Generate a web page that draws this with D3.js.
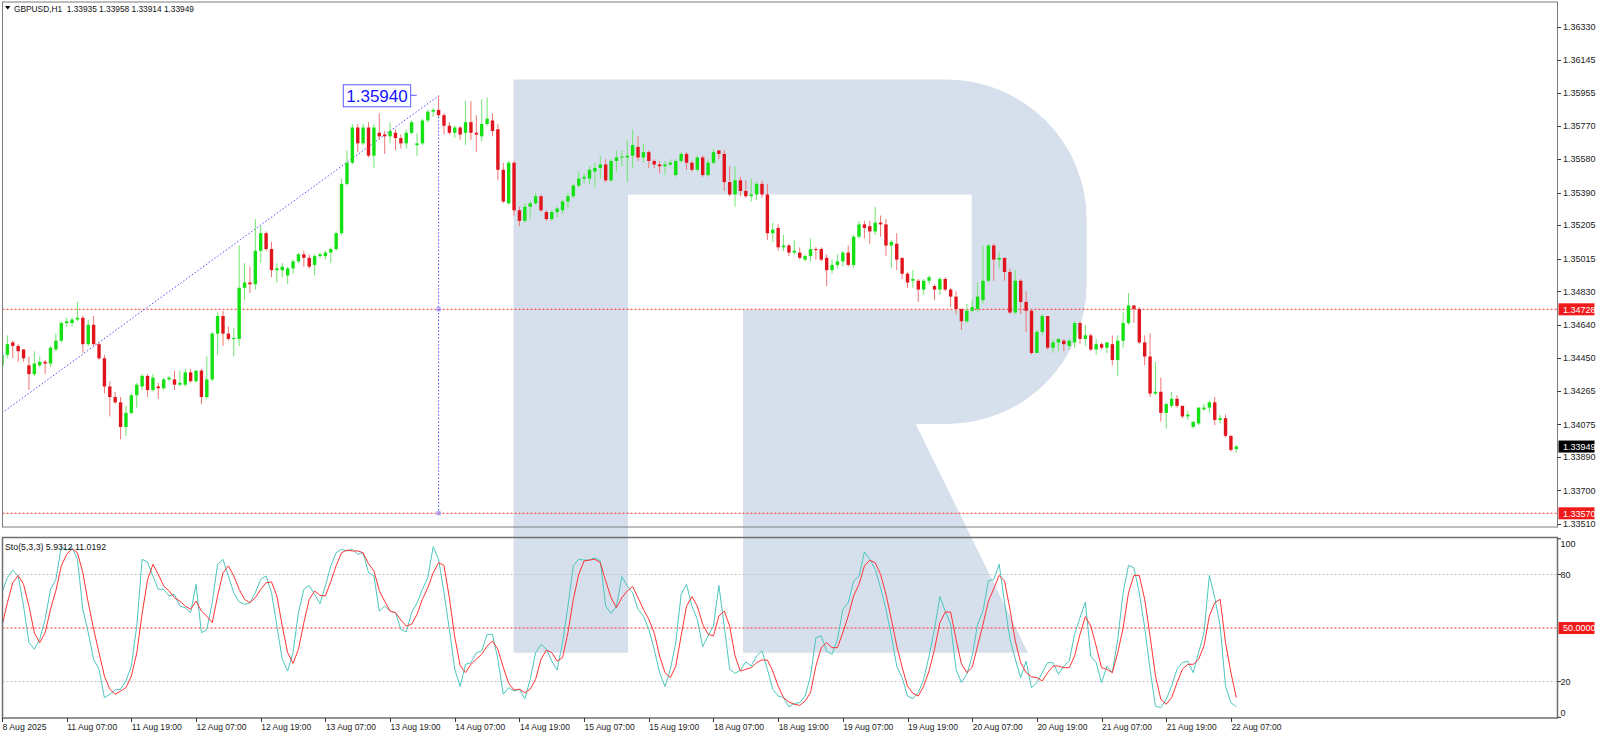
<!DOCTYPE html>
<html><head><meta charset="utf-8">
<script src="https://cdn.jsdelivr.net/npm/d3@7"></script>
<style>
body{margin:0;background:#fff;overflow:hidden}
svg{display:block}
text{font-family:"Liberation Sans",Arial,sans-serif}
</style></head>
<body><svg id="c" width="1600" height="734"></svg>
<script>
// ---------------- DATA ----------------
const symbolTitle = "GBPUSD,H1  1.33935 1.33958 1.33914 1.33949";
const stochTitle = "Sto(5,3,3) 5.9312 11.0192";

const opens = [
1.3441,1.3447,1.3454,1.3452,1.3450,1.3441,1.3436,1.3441,1.3443,1.3442,
1.3450,1.3455,1.3465,1.3465,1.3467,1.3468,1.3453,1.3464,1.3453,1.3445,
1.3429,1.3423,1.3420,1.3406,1.3414,1.3424,1.3429,1.3435,1.3427,1.3429,
1.3428,1.3433,1.3433,1.3430,1.3430,1.3437,1.3432,1.3438,1.3423,1.3433,
1.3459,1.3469,1.3459,1.3456,1.3456,1.3485,1.3488,1.3487,1.3506,1.3516,
1.3507,1.3495,1.3495,1.3492,1.3496,1.3500,1.3504,1.3502,1.3498,1.3503,
1.3503,1.3505,1.3507,1.3516,1.3544,1.3556,1.3576,1.3567,1.3576,1.3560,
1.3573,1.3572,1.3571,1.3573,1.3570,1.3567,1.3573,1.3566,1.3567,1.3580,
1.3585,1.3586,1.3583,1.3577,1.3573,1.3576,1.3573,1.3579,1.3573,1.3571,
1.3578,1.3580,1.3575,1.3552,1.3533,1.3556,1.3529,1.3523,1.3531,1.3533,
1.3537,1.3528,1.3524,1.3528,1.3529,1.3534,1.3537,1.3543,1.3547,1.3547,
1.3551,1.3553,1.3555,1.3546,1.3557,1.3559,1.3559,1.3560,1.3565,1.3559,
1.3562,1.3557,1.3555,1.3554,1.3555,1.3549,1.3557,1.3561,1.3556,1.3552,
1.3559,1.3549,1.3556,1.3563,1.3561,1.3545,1.3538,1.3546,1.3540,1.3537,
1.3538,1.3544,1.3538,1.3516,1.3519,1.3508,1.3509,1.3505,1.3505,1.3501,
1.3503,1.3507,1.3507,1.3502,1.3495,1.3498,1.3500,1.3505,1.3498,1.3514,
1.3521,1.3520,1.3517,1.3522,1.3521,1.3509,1.3510,1.3502,1.3493,1.3489,
1.3489,1.3484,1.3489,1.3486,1.3484,1.3490,1.3484,1.3480,1.3473,1.3466,
1.3472,1.3473,1.3478,1.3489,1.3509,1.3501,1.3502,1.3494,1.3471,1.3489,
1.3477,1.3472,1.3448,1.3460,1.3469,1.3451,1.3454,1.3455,1.3452,1.3454,
1.3465,1.3456,1.3458,1.3450,1.3453,1.3451,1.3453,1.3444,1.3455,1.3465,
1.3475,1.3473,1.3454,1.3446,1.3425,1.3426,1.3414,1.3418,1.3422,1.3418,
1.3412,1.3406,1.3408,1.3416,1.3417,1.3420,1.3410,1.3411,1.3401,1.33935];

const highs = [
1.3450,1.3458,1.3455,1.3453,1.3450,1.3446,1.3449,1.3446,1.3444,1.3452,
1.3459,1.3466,1.3468,1.3468,1.3477,1.3469,1.3467,1.3469,1.3454,1.3447,
1.3432,1.3426,1.3423,1.3418,1.3425,1.3431,1.3436,1.3436,1.3436,1.3431,
1.3434,1.3435,1.3438,1.3438,1.3439,1.3439,1.3438,1.3439,1.3446,1.3460,
1.3471,1.3472,1.3463,1.3462,1.3509,1.3499,1.3497,1.3524,1.3520,1.3517,
1.3511,1.3499,1.3499,1.3497,1.3501,1.3505,1.3506,1.3504,1.3504,1.3505,
1.3506,1.3508,1.3517,1.3547,1.3563,1.3578,1.3578,1.3578,1.3579,1.3578,
1.3584,1.3574,1.3579,1.3575,1.3572,1.3575,1.3580,1.3573,1.3581,1.3586,
1.3587,1.3594,1.3584,1.3579,1.3577,1.3577,1.3591,1.3591,1.3583,1.3592,
1.3593,1.3584,1.3578,1.3556,1.3557,1.3557,1.3531,1.3533,1.3534,1.3539,
1.3538,1.3529,1.3529,1.3531,1.3535,1.3539,1.3544,1.3551,1.3550,1.3554,
1.3556,1.3560,1.3558,1.3558,1.3563,1.3563,1.3569,1.3575,1.3571,1.3567,
1.3563,1.3558,1.3557,1.3557,1.3558,1.3558,1.3562,1.3562,1.3557,1.3560,
1.3560,1.3558,1.3564,1.3563,1.3563,1.3554,1.3554,1.3548,1.3546,1.3547,
1.3545,1.3546,1.3544,1.3522,1.3521,1.3515,1.3510,1.3512,1.3508,1.3504,
1.3513,1.3508,1.3508,1.3504,1.3501,1.3504,1.3506,1.3509,1.3515,1.3523,
1.3523,1.3523,1.3531,1.3526,1.3524,1.3512,1.3516,1.3502,1.3494,1.3495,
1.3490,1.3490,1.3492,1.3487,1.3491,1.3491,1.3485,1.3483,1.3473,1.3476,
1.3478,1.3488,1.3509,1.3510,1.3510,1.3505,1.3502,1.3496,1.3495,1.3490,
1.3483,1.3473,1.3461,1.3470,1.3469,1.3456,1.3456,1.3456,1.3456,1.3466,
1.3466,1.3464,1.3459,1.3456,1.3454,1.3454,1.3458,1.3458,1.3471,1.3482,
1.3475,1.3474,1.3458,1.3459,1.3443,1.3434,1.3420,1.3426,1.3424,1.3418,
1.3415,1.3409,1.3417,1.3419,1.3421,1.3423,1.3413,1.3413,1.3401,1.33958];

const lows = [
1.3438,1.3445,1.3445,1.3443,1.3443,1.3427,1.3435,1.3440,1.3436,1.3440,
1.3449,1.3454,1.3463,1.3463,1.3466,1.3448,1.3452,1.3452,1.3444,1.3425,
1.3412,1.3419,1.3399,1.3401,1.3413,1.3417,1.3427,1.3423,1.3426,1.3422,
1.3427,1.3432,1.3427,1.3429,1.3429,1.3431,1.3431,1.3419,1.3422,1.3432,
1.3447,1.3452,1.3455,1.3446,1.3452,1.3478,1.3482,1.3484,1.3499,1.3506,
1.3491,1.3488,1.3491,1.3487,1.3493,1.3499,1.3497,1.3496,1.3492,1.3502,
1.3501,1.3499,1.3506,1.3515,1.3543,1.3555,1.3562,1.3566,1.3559,1.3553,
1.3569,1.3561,1.3567,1.3563,1.3564,1.3564,1.3572,1.3560,1.3566,1.3579,
1.3582,1.3582,1.3572,1.3572,1.3570,1.3569,1.3566,1.3569,1.3562,1.3568,
1.3577,1.3571,1.3546,1.3533,1.3532,1.3526,1.3520,1.3522,1.3524,1.3532,
1.3528,1.3523,1.3523,1.3525,1.3527,1.3530,1.3536,1.3542,1.3544,1.3544,
1.3542,1.3547,1.3545,1.3545,1.3551,1.3554,1.3545,1.3553,1.3557,1.3556,
1.3553,1.3553,1.3550,1.3549,1.3554,1.3548,1.3556,1.3552,1.3551,1.3551,
1.3548,1.3548,1.3555,1.3558,1.3540,1.3537,1.3531,1.3537,1.3536,1.3534,
1.3535,1.3536,1.3512,1.3511,1.3506,1.3506,1.3503,1.3504,1.3501,1.3500,
1.3500,1.3501,1.3500,1.3486,1.3493,1.3496,1.3497,1.3497,1.3496,1.3513,
1.3513,1.3510,1.3515,1.3514,1.3503,1.3496,1.3495,1.3490,1.3485,1.3485,
1.3477,1.3481,1.3487,1.3478,1.3481,1.3483,1.3474,1.3470,1.3461,1.3465,
1.3471,1.3471,1.3476,1.3488,1.3489,1.3496,1.3489,1.3470,1.3470,1.3470,
1.3460,1.3447,1.3448,1.3458,1.3450,1.3448,1.3449,1.3449,1.3450,1.3451,
1.3453,1.3452,1.3449,1.3447,1.3450,1.3448,1.3441,1.3435,1.3451,1.3464,
1.3465,1.3453,1.3441,1.3423,1.3424,1.3409,1.3405,1.3417,1.3417,1.3411,
1.3410,1.3405,1.3407,1.3415,1.3414,1.3407,1.3408,1.3400,1.3392,1.33914];

const closes = [
1.3447,1.3453,1.3452,1.3449,1.3445,1.3436,1.3442,1.3443,1.3442,1.3451,
1.3455,1.3465,1.3466,1.3467,1.3468,1.3453,1.3464,1.3453,1.3445,1.3429,
1.3423,1.3420,1.3406,1.3414,1.3424,1.3430,1.3435,1.3427,1.3434,1.3428,
1.3433,1.3434,1.3430,1.3431,1.3437,1.3432,1.3438,1.3423,1.3433,1.3459,
1.3469,1.3459,1.3456,1.34565,1.3485,1.3488,1.3487,1.3506,1.3516,1.3507,
1.3495,1.3496,1.3497,1.3496,1.3500,1.3504,1.3502,1.3497,1.3503,1.3504,
1.3505,1.3507,1.3516,1.3544,1.3556,1.3576,1.3567,1.3576,1.3560,1.3576,
1.3571,1.3571,1.3574,1.3570,1.3567,1.3573,1.3579,1.3567,1.3580,1.3585,
1.3586,1.3583,1.3577,1.3573,1.3576,1.3572,1.3579,1.3573,1.3572,1.3578,
1.3581,1.3574,1.3552,1.3534,1.3556,1.3529,1.3523,1.3531,1.3533,1.3537,
1.3529,1.3524,1.3528,1.3530,1.3534,1.3537,1.3543,1.3547,1.3548,1.3552,
1.3553,1.3555,1.3546,1.3557,1.3559,1.35595,1.3560,1.3566,1.3559,1.3562,
1.3557,1.3555,1.3554,1.3555,1.3556,1.3557,1.3561,1.3556,1.3552,1.3559,
1.3549,1.3556,1.3562,1.3561,1.3545,1.3538,1.3546,1.3540,1.3537,1.3538,
1.3544,1.3538,1.3516,1.3518,1.3508,1.3509,1.3505,1.3506,1.3502,1.3503,
1.3507,1.35068,1.3501,1.3495,1.3498,1.3500,1.3505,1.3498,1.3514,1.3521,
1.3519,1.3517,1.3522,1.3521,1.3509,1.3511,1.3501,1.3493,1.3488,1.3490,
1.3484,1.3489,1.3491,1.3484,1.3490,1.3484,1.3480,1.3473,1.3466,1.3472,
1.3474,1.3480,1.3489,1.3509,1.3501,1.3502,1.3494,1.3471,1.3489,1.3477,
1.3472,1.3448,1.3460,1.3469,1.3451,1.3454,1.3456,1.3453,1.3455,1.3465,
1.3456,1.3458,1.3450,1.3453,1.3451,1.3454,1.3444,1.3455,1.3465,1.3475,
1.3473,1.3454,1.3446,1.3425,1.3426,1.3414,1.3419,1.3422,1.3418,1.3412,
1.3413,1.3409,1.3417,1.3417,1.3420,1.3410,1.3411,1.3401,1.3393,1.33949];

const stochK = [
69.8,78.2,82.5,79.2,62.3,41.8,38.1,43.7,54.9,71.7,
77.3,95.6,93.7,95.0,88.5,60.5,47.4,32.5,26.9,11.0,
12.9,15.3,15.7,20.4,28.7,51.1,88.5,87.0,79.2,71.7,
71.7,68.0,68.9,62.3,61.4,58.6,74.5,47.4,49.3,64.2,
85.7,88.5,79.2,69.8,64.6,63.3,64.2,69.8,77.3,79.2,
69.8,51.1,32.5,25.9,36.2,58.6,71.7,73.9,68.9,63.7,
73.6,84.8,92.2,94.1,93.2,94.1,91.3,92.2,81.0,79.2,
59.5,62.3,59.5,58.6,49.3,47.8,58.6,64.0,71.7,78.2,
95.6,88.5,69.8,49.3,26.9,17.2,29.7,30.6,36.2,37.2,
46.5,46.5,32.5,12.9,16.6,14.7,15.7,10.4,21.3,36.2,
40.9,38.1,31.5,26.5,41.8,62.3,85.1,88.5,88.1,88.1,
89.4,87.6,62.3,58.2,62.3,78.8,73.6,69.8,60.5,56.7,
49.3,38.1,25.0,17.2,26.9,41.8,68.9,74.5,62.3,54.9,
39.6,45.6,51.1,73.9,51.1,26.9,24.6,26.5,31.0,28.7,
34.4,37.2,26.9,15.7,11.9,11.0,5.8,7.8,8.2,11.9,
23.1,44.6,45.6,37.0,35.3,43.7,60.5,64.2,76.4,79.2,
92.6,88.5,82.9,72.6,60.5,45.6,28.7,22.2,11.9,10.4,
13.8,21.3,34.4,49.3,67.6,59.5,52.1,26.9,19.4,24.1,
34.4,52.1,59.5,76.4,77.3,85.7,64.2,43.7,32.5,22.2,
31.5,16.6,19.4,25.0,30.6,30.6,24.1,28.7,31.5,46.5,
55.8,64.6,34.4,30.6,19.4,28.7,25.0,43.7,69.8,85.1,
83.8,69.8,50.2,26.9,6.3,5.4,10.1,17.5,26.9,30.6,
31.5,25.0,36.2,47.4,79.5,67.0,51.1,17.5,8.2,5.9312];

const stochD = [
51.1,64.2,75.4,79.5,74.5,62.3,47.4,41.8,47.4,60.5,
71.0,84.8,91.3,94.5,92.2,81.0,64.2,49.3,36.2,23.1,
15.7,12.9,14.7,16.6,23.1,36.0,58.0,77.0,85.7,80.0,
73.6,70.8,67.0,65.1,62.3,60.5,65.1,59.5,56.7,53.0,
68.0,81.0,84.8,79.2,71.7,66.1,64.2,67.0,71.7,75.4,
75.8,68.0,51.1,36.2,30.2,38.1,53.0,66.0,70.8,68.3,
68.0,76.0,85.0,92.2,93.7,93.2,93.2,92.2,86.0,82.0,
71.0,65.0,59.5,58.6,54.5,51.1,52.1,57.7,66.1,72.6,
81.0,86.6,85.1,67.0,45.0,29.0,25.0,29.7,32.5,35.3,
40.0,42.7,38.1,28.0,19.0,15.3,15.7,13.8,15.7,21.3,
32.5,37.7,36.2,31.5,33.4,47.4,66.1,80.1,87.6,88.1,
88.5,86.6,76.4,67.0,61.4,67.0,70.8,73.2,67.0,60.5,
54.9,47.4,34.4,25.0,22.2,28.7,45.6,62.3,67.6,62.3,
52.1,46.5,45.6,56.7,59.5,51.1,34.4,25.9,26.9,27.8,
30.6,32.1,32.1,25.9,17.5,11.0,8.6,7.3,6.7,9.1,
13.8,28.7,39.0,41.8,39.0,39.0,47.4,56.7,68.0,74.5,
84.8,88.0,86.6,80.1,69.0,55.0,40.0,28.0,17.5,13.4,
11.9,17.5,26.0,38.0,53.0,59.0,59.0,43.7,30.0,25.0,
28.0,40.0,52.0,65.0,72.0,79.5,76.4,60.5,42.7,30.6,
25.0,22.7,22.2,20.4,25.0,28.7,28.7,27.8,27.8,34.4,
46.5,56.4,51.1,39.9,27.8,26.9,25.0,36.2,50.0,69.8,
79.5,79.5,66.1,45.6,23.1,10.1,7.3,11.0,19.4,26.9,
29.7,29.7,32.5,40.0,56.7,64.2,66.1,41.8,25.0,11.0192];

const priceTicks = [1.36330,1.36145,1.35955,1.35770,1.35580,1.35390,1.35205,1.35015,1.34830,1.34640,1.34450,1.34265,1.34075,1.33890,1.33700,1.33510];
const stochTicks = [100,80,20,0];
const stochLevels = [80,20];
const stochMidLevel = 50;
const timeLabels = ["8 Aug 2025","11 Aug 07:00","11 Aug 19:00","12 Aug 07:00","12 Aug 19:00","13 Aug 07:00","13 Aug 19:00","14 Aug 07:00","14 Aug 19:00","15 Aug 07:00","15 Aug 19:00","18 Aug 07:00","18 Aug 19:00","19 Aug 07:00","19 Aug 19:00","20 Aug 07:00","20 Aug 19:00","21 Aug 07:00","21 Aug 19:00","22 Aug 07:00"];
const timeLabelBars = [0,12,24,36,48,60,72,84,96,108,120,132,144,156,168,180,192,204,216,228];
const levelPrices = [1.34728,1.33570];
const lastPrice = 1.33949;
const trendBars = [0,81];
const trendPrices = [1.3414,1.35940];
const trendLabel = "1.35940";

// ---------------- LAYOUT ----------------
const svg = d3.select('#c');
const PL = 2.5, PR = 1557.5, MT = 2.5, MB = 527, ST = 537.5, SB = 718;
const n = opens.length;
const x = d3.scaleLinear().domain([0, n - 1]).range([2, 2 + 5.39 * (n - 1)]);
const y = d3.scaleLinear().domain([1.33570, 1.34728]).range([513.3, 309.3]);
const ys = d3.scaleLinear().domain([0, 100]).range([717.3, 538.8]);

svg.append('rect').attr('width', 1600).attr('height', 734).attr('fill', '#fff');

// watermark (RoboForex "R")
svg.append('path')
  .attr('d', 'M513.5,79.6 H946.7 A140,140 0 0 1 1086.7,219.6 V284 A140,140 0 0 1 946.7,424 H915.7 L1028,652.7 H743 V310 H971.7 V194.5 H628 V652.7 H513.5 Z')
  .attr('fill', '#d6e0ec');

const defs = svg.append('defs');
defs.append('clipPath').attr('id', 'clipMain').append('rect')
  .attr('x', PL).attr('y', MT).attr('width', PR - PL).attr('height', MB - MT);
defs.append('clipPath').attr('id', 'clipSto').append('rect')
  .attr('x', PL).attr('y', ST).attr('width', PR - PL).attr('height', SB - ST);

const gMain = svg.append('g').attr('clip-path', 'url(#clipMain)');

// horizontal level lines
gMain.selectAll('line.lvl').data(levelPrices).join('line')
  .attr('x1', PL).attr('x2', PR)
  .attr('y1', d => y(d)).attr('y2', d => y(d))
  .attr('stroke', '#ff2a2a').attr('stroke-width', 1).attr('stroke-dasharray', '2,2');

// trend line + vertical line
const tx0 = x(trendBars[0]), ty0 = y(trendPrices[0]);
const tx1 = x(trendBars[1]), ty1 = y(trendPrices[1]);
gMain.append('line').attr('x1', tx0).attr('y1', ty0).attr('x2', tx1).attr('y2', ty1)
  .attr('stroke', '#4d4dff').attr('stroke-width', 1).attr('stroke-dasharray', '1.5,2');
gMain.append('line').attr('x1', tx1).attr('y1', ty1).attr('x2', tx1).attr('y2', y(levelPrices[1]))
  .attr('stroke', '#4d4dff').attr('stroke-width', 1).attr('stroke-dasharray', '1.5,2');
[levelPrices[0], levelPrices[1]].forEach(p => {
  gMain.append('rect').attr('x', tx1 - 1.5).attr('y', y(p) - 1.5).attr('width', 3).attr('height', 3)
    .attr('fill', 'none').attr('stroke', '#7a7aff').attr('stroke-width', 0.8);
});
// label box for the trend end
const lbl = gMain.append('g');
lbl.append('rect').attr('x', tx1 - 95.3).attr('y', ty1 - 11).attr('width', 67.4).attr('height', 22)
  .attr('fill', '#fff').attr('stroke', '#5a5aff').attr('stroke-width', 1);
lbl.append('line').attr('x1', tx1 - 27.9).attr('x2', tx1 - 21.9).attr('y1', ty1 - 0.5).attr('y2', ty1 - 0.5)
  .attr('stroke', '#5a5aff').attr('stroke-width', 1);
lbl.append('text').attr('x', tx1 - 61.6).attr('y', ty1 + 6.5).attr('text-anchor', 'middle')
  .attr('font-size', 17).attr('fill', '#1515ff').text(trendLabel);

// candles
const idx = d3.range(n);
const up = i => closes[i] >= opens[i];
gMain.selectAll('line.wick').data(idx).join('line')
  .attr('x1', i => x(i)).attr('x2', i => x(i))
  .attr('y1', i => y(highs[i])).attr('y2', i => y(lows[i]))
  .attr('stroke', i => up(i) ? '#6fe66f' : '#ef7676').attr('stroke-width', 1);
gMain.selectAll('rect.body').data(idx).join('rect')
  .attr('x', i => x(i) - 1.7).attr('width', 3.4)
  .attr('y', i => y(Math.max(opens[i], closes[i])))
  .attr('height', i => Math.max(1, Math.abs(y(opens[i]) - y(closes[i]))))
  .attr('fill', i => up(i) ? '#14e014' : '#e0141c');

// title
svg.append('path').attr('d', 'M5,6 L10.5,6 L7.75,9.5 Z').attr('fill', '#000');
svg.append('text').attr('x', 14).attr('y', 11.5).attr('font-size', 9).attr('fill', '#111')
  .attr('textLength', 180).attr('lengthAdjust', 'spacingAndGlyphs')
  .style('white-space', 'pre').text(symbolTitle);

// stochastic panel
const gSto = svg.append('g').attr('clip-path', 'url(#clipSto)');
gSto.selectAll('line.lv').data(stochLevels).join('line')
  .attr('x1', PL).attr('x2', PR).attr('y1', d => ys(d)).attr('y2', d => ys(d))
  .attr('stroke', '#c4c4c4').attr('stroke-width', 1).attr('stroke-dasharray', '2,2');
gSto.append('line').attr('x1', PL).attr('x2', PR).attr('y1', ys(stochMidLevel)).attr('y2', ys(stochMidLevel))
  .attr('stroke', '#ff2a2a').attr('stroke-width', 1).attr('stroke-dasharray', '2,2');
const lineK = d3.line().x((d, i) => x(i)).y(d => ys(d));
gSto.append('path').datum(stochK).attr('d', lineK).attr('fill', 'none')
  .attr('stroke', '#4cc6be').attr('stroke-width', 1);
gSto.append('path').datum(stochD).attr('d', lineK).attr('fill', 'none')
  .attr('stroke', '#ff3434').attr('stroke-width', 1);
svg.append('text').attr('x', 5).attr('y', 549.5).attr('font-size', 9).attr('fill', '#111')
  .attr('textLength', 101).attr('lengthAdjust', 'spacingAndGlyphs').text(stochTitle);

// frames
svg.append('rect').attr('x', PL).attr('y', MT - 0.5).attr('width', PR - PL).attr('height', MB - MT + 0.5)
  .attr('fill', 'none').attr('stroke', '#7d7d7d').attr('stroke-width', 1);
svg.append('rect').attr('x', PL).attr('y', ST).attr('width', PR - PL).attr('height', SB - ST)
  .attr('fill', 'none').attr('stroke', '#6f6f6f').attr('stroke-width', 1.5);

// price axis
const axG = svg.append('g');
axG.selectAll('line.pt').data(priceTicks).join('line')
  .attr('x1', PR).attr('x2', PR + 3.5).attr('y1', d => Math.round(y(d)) + 0.5).attr('y2', d => Math.round(y(d)) + 0.5)
  .attr('stroke', '#333');
axG.selectAll('text.pt').data(priceTicks).join('text')
  .attr('x', PR + 5.5).attr('y', d => y(d) + 3.2).attr('font-size', 9).attr('fill', '#222')
  .text(d => d.toFixed(5));
function priceTag(v, txt, bg, yy) {
  axG.append('rect').attr('x', PR + 1).attr('y', yy - 6).attr('width', txt.length > 7 ? 39 : 36).attr('height', 12).attr('fill', bg);
  axG.append('text').attr('x', PR + 5.5).attr('y', yy + 3.2).attr('font-size', 9).attr('fill', '#fff').text(txt);
}
levelPrices.forEach(p => priceTag(p, p.toFixed(5), '#f01a1a', y(p)));
priceTag(lastPrice, lastPrice.toFixed(5), '#000', y(lastPrice));

// stochastic axis
axG.selectAll('line.st').data(stochTicks).join('line')
  .attr('x1', PR).attr('x2', PR + 3.5).attr('y1', d => ys(d)).attr('y2', d => ys(d)).attr('stroke', '#333');
axG.selectAll('text.st').data(stochTicks).join('text')
  .attr('x', PR + 3).attr('y', d => Math.min(712.7, Math.max(544, ys(d))) + 3.2)
  .attr('font-size', 9).attr('fill', '#222').text(d => d);
priceTag(stochMidLevel, stochMidLevel.toFixed(4), '#f01a1a', ys(stochMidLevel));

// time axis
const tG = svg.append('g');
tG.selectAll('line').data(timeLabelBars).join('line')
  .attr('x1', b => Math.round(x(b)) + 0.5).attr('x2', b => Math.round(x(b)) + 0.5)
  .attr('y1', SB).attr('y2', SB + 4).attr('stroke', '#333');
tG.selectAll('text').data(timeLabelBars).join('text')
  .attr('x', b => x(b) + 0.5).attr('y', 729.5).attr('font-size', 9).attr('fill', '#222')
  .attr('textLength', (b, i) => timeLabels[i].length === 12 ? 50 : 44).attr('lengthAdjust', 'spacingAndGlyphs')
  .text((b, i) => timeLabels[i]);
</script>
</body></html>
